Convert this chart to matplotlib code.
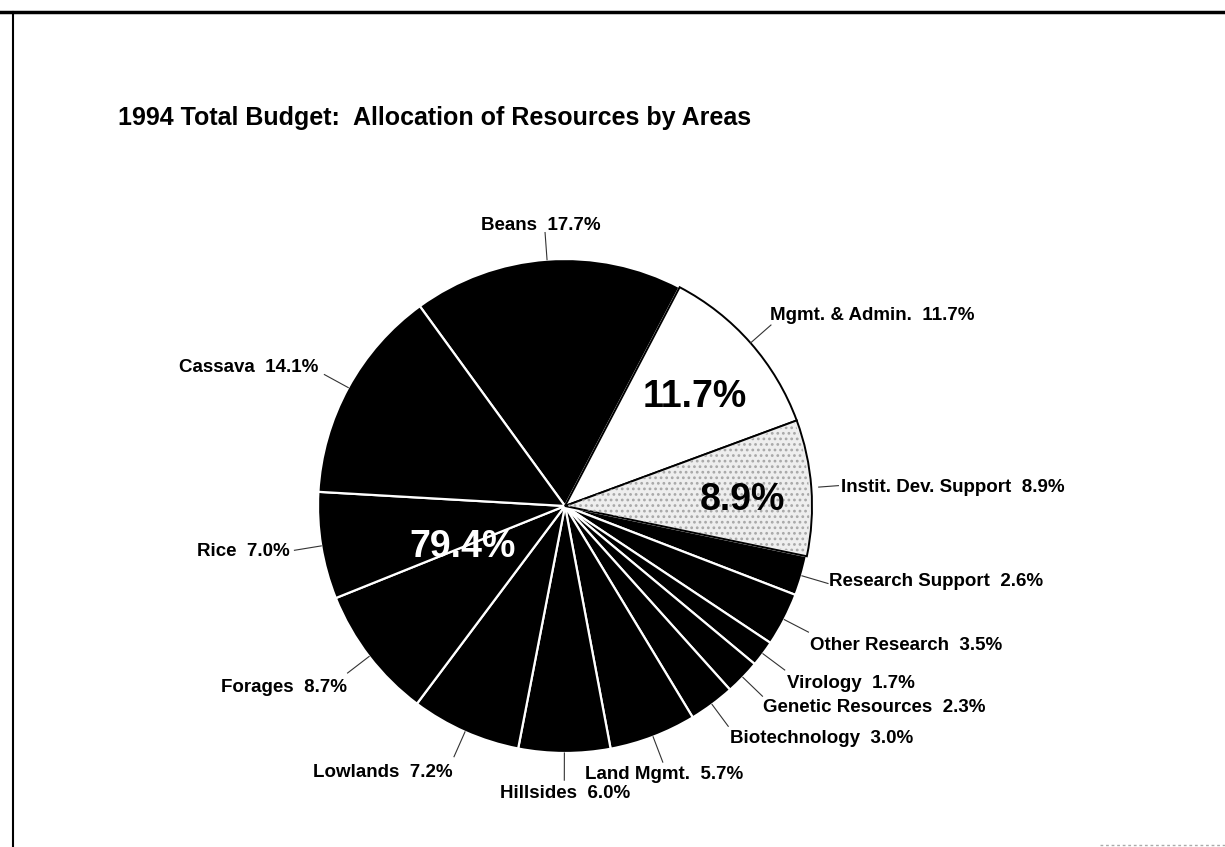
import numpy as np
import matplotlib
matplotlib.use("Agg")
import matplotlib.pyplot as plt
from matplotlib.patches import Wedge

W, H = 1225, 847

# budget shares (%), clockwise from Beans
areas = ["Beans", "Mgmt. & Admin.", "Instit. Dev. Support", "Research Support",
         "Other Research", "Virology", "Genetic Resources", "Biotechnology",
         "Land Mgmt.", "Hillsides", "Lowlands", "Forages", "Rice", "Cassava"]
shares = [17.7, 11.7, 8.9, 2.6, 3.5, 1.7, 2.3, 3.0, 5.7, 6.0, 7.2, 8.7, 7.0, 14.1]
# group totals written inside the pie
group_labels = ["11.7%", "8.9%", "79.4%"]

TITLE = "1994 Total Budget:  Allocation of Resources by Areas"

# layout (image pixel coords, y down)
CX, CY, R = 565, 506, 247
label_xy = [(541, 225), (770, 315), (841, 487), (829, 582), (810, 645),
            (787, 683), (763, 707), (730, 738), (664, 774), (565, 793),
            (453, 772), (347, 687), (290, 552), (318, 367)]
label_ha = ["center", "left", "left", "left", "left", "left", "left", "left",
            "center", "center", "right", "right", "right", "right"]
group_xy = [(695, 397), (742, 500), (463, 547)]
group_col = ["black", "black", "white"]

FONT = ["Liberation Sans", "DejaVu Sans"]


def iy(y):
    return H - y


def main():
    plt.rcParams["hatch.linewidth"] = 1.2
    fig = plt.figure(figsize=(W / 100, H / 100), dpi=100)
    ax = fig.add_axes([0, 0, 1, 1])

    colors = ["black"] * len(shares)
    colors[1] = "white"
    colors[2] = "#eeeeee"

    wedges, _ = ax.pie(shares, colors=colors, startangle=126, counterclock=False,
                       center=(CX, iy(CY)), radius=R,
                       wedgeprops=dict(edgecolor="white", linewidth=1.6))
    for w in wedges[1:3]:
        w.set_edgecolor("black")
        w.set_linewidth(1.4)
        w.set_zorder(3)

    # stipple on the institutional wedge
    w = wedges[2]
    ax.add_patch(Wedge(w.center, w.r * 0.99, w.theta1 + 0.5, w.theta2 - 0.5,
                       facecolor="none", edgecolor="#a8a8a8", linewidth=0,
                       hatch="...", zorder=3.5))

    # leader lines + labels
    for i, w in enumerate(wedges):
        a = np.deg2rad((w.theta1 + w.theta2) / 2)
        r0 = 1.03 if i == 2 else 1.0
        r1 = 1.11
        xs = [CX + R * r0 * np.cos(a), CX + R * r1 * np.cos(a)]
        ys = [iy(CY) + R * r0 * np.sin(a), iy(CY) + R * r1 * np.sin(a)]
        ax.plot(xs, ys, color="#333333", lw=0.8, zorder=4)
        x, y = label_xy[i]
        ax.text(x, iy(y), f"{areas[i]}  {shares[i]:.1f}%", ha=label_ha[i],
                va="center", fontsize=13.5, fontweight="bold", family=FONT)

    for txt, (x, y), c in zip(group_labels, group_xy, group_col):
        ax.text(x, iy(y), txt, ha="center", va="center", fontsize=27,
                fontweight="bold", color=c, family=FONT, zorder=5)

    ax.text(118, iy(118), TITLE, ha="left", va="center", fontsize=18,
            fontweight="bold", family=FONT)

    # scanned page frame
    ax.plot([0, W], [iy(12), iy(12)], color="black", lw=2.5)
    ax.plot([13, 13], [iy(12), 0], color="black", lw=1.5)
    ax.plot([1100, W], [iy(845), iy(845)], color="#aaaaaa", lw=1, ls=(0, (2, 2)))

    ax.set_xlim(0, W)
    ax.set_ylim(0, H)
    ax.set_aspect("equal")
    ax.axis("off")
    fig.savefig("out.png", dpi=100, facecolor="white")


if __name__ == "__main__":
    main()
